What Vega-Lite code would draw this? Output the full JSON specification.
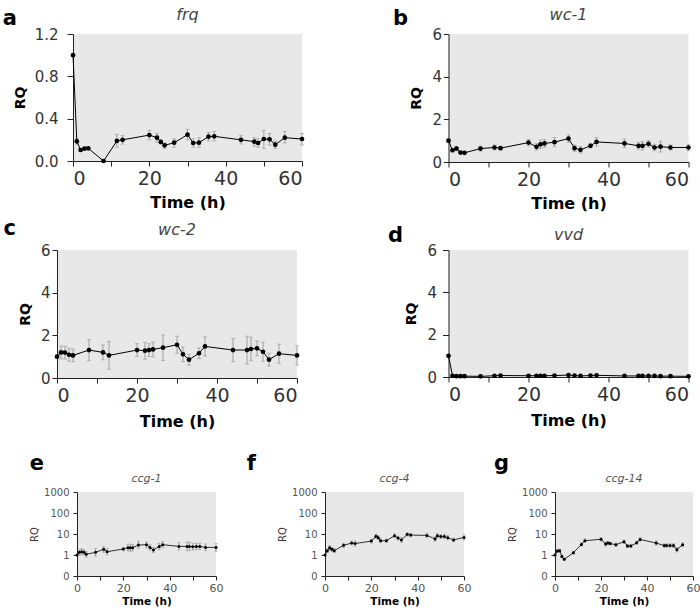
{
"$schema": "https://vega.github.io/schema/vega-lite/v6.json",
"padding": {"left": 2, "top": 7, "right": 0, "bottom": 0},
"background": "white",
"config": {
  "view": {"fill": "#e8e8e8", "stroke": null},
  "axis": {"grid": false, "domainColor": "#222", "tickColor": "#222", "labelColor": "#333", "titleColor": "#000", "labelFont": "DejaVu Sans", "titleFont": "DejaVu Sans", "domainWidth": 1, "tickWidth": 1},
  "title": {"font": "DejaVu Sans"}
},
"datasets": {
  "frq": [
    {"t":0,"rq":1.0,"lo":0.99,"hi":1.01},{"t":1,"rq":0.186,"lo":0.16,"hi":0.21},{"t":2,"rq":0.104,"lo":0.09,"hi":0.12},{"t":3,"rq":0.117,"lo":0.10,"hi":0.13},{"t":4,"rq":0.12,"lo":0.11,"hi":0.13},{"t":8,"rq":0.0,"lo":0.0,"hi":0.01},{"t":11.5,"rq":0.19,"lo":0.13,"hi":0.25},{"t":13,"rq":0.2,"lo":0.16,"hi":0.24},{"t":20,"rq":0.245,"lo":0.2,"hi":0.29},{"t":22,"rq":0.22,"lo":0.18,"hi":0.26},{"t":23,"rq":0.18,"lo":0.16,"hi":0.2},{"t":24,"rq":0.148,"lo":0.12,"hi":0.17},{"t":26.5,"rq":0.173,"lo":0.13,"hi":0.21},{"t":30,"rq":0.249,"lo":0.2,"hi":0.3},{"t":31.5,"rq":0.17,"lo":0.13,"hi":0.21},{"t":33,"rq":0.173,"lo":0.13,"hi":0.22},{"t":35.5,"rq":0.23,"lo":0.19,"hi":0.27},{"t":37,"rq":0.233,"lo":0.19,"hi":0.28},{"t":44,"rq":0.2,"lo":0.16,"hi":0.24},{"t":47.5,"rq":0.183,"lo":0.14,"hi":0.22},{"t":48.5,"rq":0.17,"lo":0.13,"hi":0.21},{"t":50,"rq":0.208,"lo":0.12,"hi":0.29},{"t":51.5,"rq":0.205,"lo":0.15,"hi":0.26},{"t":53,"rq":0.154,"lo":0.12,"hi":0.19},{"t":55.5,"rq":0.22,"lo":0.17,"hi":0.28},{"t":60,"rq":0.208,"lo":0.15,"hi":0.26}
  ],
  "wc1": [
    {"t":0,"rq":1.0,"lo":0.92,"hi":1.08},{"t":1,"rq":0.55,"lo":0.47,"hi":0.63},{"t":2,"rq":0.63,"lo":0.53,"hi":0.73},{"t":3,"rq":0.44,"lo":0.38,"hi":0.5},{"t":4,"rq":0.43,"lo":0.37,"hi":0.49},{"t":8,"rq":0.63,"lo":0.51,"hi":0.75},{"t":11.5,"rq":0.68,"lo":0.56,"hi":0.8},{"t":13,"rq":0.65,"lo":0.57,"hi":0.73},{"t":20,"rq":0.91,"lo":0.76,"hi":1.06},{"t":22,"rq":0.71,"lo":0.56,"hi":0.86},{"t":23,"rq":0.83,"lo":0.63,"hi":1.03},{"t":24,"rq":0.87,"lo":0.69,"hi":1.05},{"t":26.5,"rq":0.93,"lo":0.71,"hi":1.15},{"t":30,"rq":1.1,"lo":0.92,"hi":1.28},{"t":31.5,"rq":0.65,"lo":0.5,"hi":0.8},{"t":33,"rq":0.57,"lo":0.42,"hi":0.72},{"t":35.5,"rq":0.76,"lo":0.66,"hi":0.86},{"t":37,"rq":0.94,"lo":0.74,"hi":1.14},{"t":44,"rq":0.87,"lo":0.67,"hi":1.07},{"t":47.5,"rq":0.76,"lo":0.61,"hi":0.91},{"t":48.5,"rq":0.76,"lo":0.56,"hi":0.96},{"t":50,"rq":0.85,"lo":0.7,"hi":1.0},{"t":51.5,"rq":0.68,"lo":0.53,"hi":0.83},{"t":53,"rq":0.72,"lo":0.47,"hi":0.97},{"t":55.5,"rq":0.68,"lo":0.56,"hi":0.8},{"t":60,"rq":0.68,"lo":0.53,"hi":0.83}
  ],
  "wc2": [
    {"t":0,"rq":1.0,"lo":0.95,"hi":1.05},{"t":1,"rq":1.2,"lo":0.9,"hi":1.5},{"t":2,"rq":1.19,"lo":0.89,"hi":1.49},{"t":3,"rq":1.09,"lo":0.79,"hi":1.39},{"t":4,"rq":1.06,"lo":0.76,"hi":1.36},{"t":8,"rq":1.31,"lo":0.81,"hi":1.81},{"t":11.5,"rq":1.2,"lo":0.85,"hi":1.55},{"t":13,"rq":1.06,"lo":0.41,"hi":1.71},{"t":20,"rq":1.31,"lo":1.01,"hi":1.61},{"t":22,"rq":1.28,"lo":0.88,"hi":1.68},{"t":23,"rq":1.31,"lo":1.01,"hi":1.61},{"t":24,"rq":1.34,"lo":0.99,"hi":1.69},{"t":26.5,"rq":1.42,"lo":0.82,"hi":2.02},{"t":30,"rq":1.56,"lo":1.16,"hi":1.96},{"t":31.5,"rq":1.11,"lo":0.76,"hi":1.46},{"t":33,"rq":0.86,"lo":0.61,"hi":1.11},{"t":35.5,"rq":1.16,"lo":0.91,"hi":1.41},{"t":37,"rq":1.48,"lo":1.03,"hi":1.93},{"t":44,"rq":1.31,"lo":0.76,"hi":1.86},{"t":47.5,"rq":1.31,"lo":0.66,"hi":1.96},{"t":48.5,"rq":1.36,"lo":0.81,"hi":1.91},{"t":50,"rq":1.39,"lo":1.04,"hi":1.74},{"t":51.5,"rq":1.23,"lo":0.78,"hi":1.68},{"t":53,"rq":0.86,"lo":0.56,"hi":1.16},{"t":55.5,"rq":1.14,"lo":0.69,"hi":1.59},{"t":60,"rq":1.06,"lo":0.61,"hi":1.51}
  ],
  "vvd": [
    {"t":0,"rq":1.0,"lo":0.97,"hi":1.03},{"t":1,"rq":0.06,"lo":0.04,"hi":0.08},{"t":2,"rq":0.04,"lo":0.03,"hi":0.05},{"t":3,"rq":0.04,"lo":0.03,"hi":0.05},{"t":4,"rq":0.04,"lo":0.03,"hi":0.05},{"t":8,"rq":0.03,"lo":0.02,"hi":0.04},{"t":11.5,"rq":0.06,"lo":0.04,"hi":0.08},{"t":13,"rq":0.07,"lo":0.05,"hi":0.09},{"t":20,"rq":0.06,"lo":0.04,"hi":0.08},{"t":22,"rq":0.06,"lo":0.04,"hi":0.08},{"t":23,"rq":0.06,"lo":0.04,"hi":0.08},{"t":24,"rq":0.06,"lo":0.04,"hi":0.08},{"t":26.5,"rq":0.07,"lo":0.05,"hi":0.09},{"t":30,"rq":0.09,"lo":0.06,"hi":0.12},{"t":31.5,"rq":0.07,"lo":0.05,"hi":0.09},{"t":33,"rq":0.05,"lo":0.04,"hi":0.06},{"t":35.5,"rq":0.07,"lo":0.05,"hi":0.09},{"t":37,"rq":0.08,"lo":0.06,"hi":0.1},{"t":44,"rq":0.05,"lo":0.04,"hi":0.06},{"t":47.5,"rq":0.05,"lo":0.04,"hi":0.06},{"t":48.5,"rq":0.05,"lo":0.04,"hi":0.06},{"t":50,"rq":0.05,"lo":0.04,"hi":0.06},{"t":51.5,"rq":0.05,"lo":0.04,"hi":0.06},{"t":53,"rq":0.04,"lo":0.03,"hi":0.05},{"t":55.5,"rq":0.04,"lo":0.03,"hi":0.05},{"t":60,"rq":0.03,"lo":0.02,"hi":0.04}
  ],
  "ccg1": [
    {"t":0,"rq":1.0,"lo":0.95,"hi":1.05},{"t":1,"rq":1.34,"lo":1.0,"hi":1.8},{"t":2,"rq":1.44,"lo":1.05,"hi":2.0},{"t":3,"rq":1.34,"lo":1.0,"hi":1.8},{"t":4,"rq":1.08,"lo":0.8,"hi":1.45},{"t":8,"rq":1.34,"lo":0.9,"hi":2.0},{"t":11.5,"rq":1.86,"lo":1.35,"hi":2.5},{"t":13,"rq":1.44,"lo":1.0,"hi":2.1},{"t":20,"rq":1.93,"lo":1.6,"hi":2.3},{"t":22,"rq":2.23,"lo":1.6,"hi":3.1},{"t":23,"rq":2.23,"lo":1.5,"hi":3.3},{"t":24,"rq":2.23,"lo":1.6,"hi":3.1},{"t":26.5,"rq":2.97,"lo":2.1,"hi":4.5},{"t":30,"rq":3.1,"lo":2.2,"hi":4.3},{"t":31.5,"rq":2.3,"lo":1.7,"hi":3.1},{"t":33,"rq":1.73,"lo":1.3,"hi":2.3},{"t":35.5,"rq":2.57,"lo":1.8,"hi":3.6},{"t":37,"rq":3.1,"lo":2.2,"hi":4.4},{"t":44,"rq":2.57,"lo":1.7,"hi":3.9},{"t":47.5,"rq":2.57,"lo":1.6,"hi":4.1},{"t":48.5,"rq":2.57,"lo":1.6,"hi":4.1},{"t":50,"rq":2.5,"lo":1.7,"hi":3.7},{"t":51.5,"rq":2.57,"lo":1.8,"hi":3.6},{"t":53,"rq":2.57,"lo":1.8,"hi":3.6},{"t":55.5,"rq":2.3,"lo":1.6,"hi":3.3},{"t":60,"rq":2.3,"lo":1.5,"hi":3.5}
  ],
  "ccg4": [
    {"t":0,"rq":1.0,"lo":0.95,"hi":1.05},{"t":1,"rq":1.6,"lo":1.3,"hi":2.0},{"t":2,"rq":2.2,"lo":1.7,"hi":2.8},{"t":3,"rq":1.86,"lo":1.5,"hi":2.3},{"t":4,"rq":1.6,"lo":1.3,"hi":2.0},{"t":8,"rq":2.9,"lo":2.3,"hi":3.6},{"t":11.5,"rq":3.7,"lo":3.0,"hi":4.6},{"t":13,"rq":3.5,"lo":2.6,"hi":4.7},{"t":20,"rq":4.6,"lo":3.8,"hi":5.6},{"t":22,"rq":7.8,"lo":6.2,"hi":9.8},{"t":23,"rq":6.7,"lo":5.4,"hi":8.3},{"t":24,"rq":4.8,"lo":3.9,"hi":5.9},{"t":26.5,"rq":4.8,"lo":4.0,"hi":5.8},{"t":30,"rq":8.3,"lo":6.8,"hi":10.1},{"t":31.5,"rq":6.4,"lo":5.2,"hi":7.9},{"t":33,"rq":5.2,"lo":4.0,"hi":6.8},{"t":35.5,"rq":9.6,"lo":8.0,"hi":11.5},{"t":37,"rq":8.9,"lo":7.4,"hi":10.7},{"t":44,"rq":8.6,"lo":6.8,"hi":10.9},{"t":47.5,"rq":5.8,"lo":4.5,"hi":7.5},{"t":48.5,"rq":8.3,"lo":6.5,"hi":10.6},{"t":50,"rq":7.5,"lo":6.0,"hi":9.4},{"t":51.5,"rq":7.7,"lo":6.1,"hi":9.7},{"t":53,"rq":6.7,"lo":5.2,"hi":8.6},{"t":55.5,"rq":5.2,"lo":4.3,"hi":6.3},{"t":60,"rq":6.9,"lo":5.2,"hi":9.1}
  ],
  "ccg14": [
    {"t":0,"rq":1.0,"lo":0.9,"hi":1.1},{"t":1,"rq":1.55,"lo":1.3,"hi":1.85},{"t":2,"rq":1.6,"lo":1.35,"hi":1.9},{"t":3,"rq":0.86,"lo":0.75,"hi":1.0},{"t":4,"rq":0.62,"lo":0.55,"hi":0.7},{"t":8,"rq":1.29,"lo":1.1,"hi":1.5},{"t":11.5,"rq":3.2,"lo":2.7,"hi":3.8},{"t":13,"rq":4.8,"lo":4.0,"hi":5.8},{"t":20,"rq":5.6,"lo":4.7,"hi":6.7},{"t":22,"rq":3.3,"lo":2.6,"hi":4.2},{"t":23,"rq":3.7,"lo":3.1,"hi":4.4},{"t":24,"rq":3.5,"lo":3.0,"hi":4.1},{"t":26.5,"rq":3.1,"lo":2.6,"hi":3.7},{"t":30,"rq":4.3,"lo":3.6,"hi":5.1},{"t":31.5,"rq":2.7,"lo":2.3,"hi":3.2},{"t":33,"rq":2.7,"lo":2.3,"hi":3.2},{"t":35.5,"rq":3.8,"lo":3.2,"hi":4.5},{"t":37,"rq":5.5,"lo":4.6,"hi":6.6},{"t":44,"rq":3.7,"lo":2.9,"hi":4.7},{"t":47.5,"rq":2.8,"lo":2.3,"hi":3.4},{"t":48.5,"rq":2.8,"lo":2.3,"hi":3.4},{"t":50,"rq":2.8,"lo":2.3,"hi":3.4},{"t":51.5,"rq":2.8,"lo":2.3,"hi":3.4},{"t":53,"rq":1.8,"lo":1.4,"hi":2.3},{"t":55.5,"rq":3.1,"lo":2.5,"hi":3.8}
  ]
},
"columns": 1, "align": "each", "spacing": 24,
"concat": [
 {"columns": 1, "align": "each", "spacing": 7, "concat": [
  {"columns": 2, "align": "each", "spacing": 87, "concat": [
   {"columns": 2, "align": "each", "spacing": -4, "concat": [
    {"width": 14, "height": 1, "data": {"values": []}, "mark": "point", "view": {"fill": null, "stroke": null},
     "title": {"text": "a", "anchor": "end", "frame": "group", "fontSize": 21, "fontWeight": "bold", "color": "#000", "offset": 5}},
    {"width": 229, "height": 127,
     "title": {"text": "frq", "fontStyle": "italic", "fontWeight": "normal", "fontSize": 16, "color": "#444", "offset": 4},
     "data": {"name": "frq"},
     "encoding": {"x": {"field": "t", "type": "quantitative", "scale": {"domain": [0, 60], "nice": false},
       "axis": {"title": "Time (h)", "values": [0,10,20,30,40,50,60], "labelExpr": "datum.value % 20 == 0 ? datum.label : ''", "labelFontSize": 19, "labelFlush": true, "labelFlushOffset": 0, "labelPadding": 3, "tickSize": 5, "titleFontSize": 16, "titleFontWeight": "bold", "titlePadding": 6}}},
     "layer": [
      {"mark": {"type": "errorbar", "ticks": {"size": 4, "color": "#a0a0a0"}, "rule": {"color": "#a0a0a0"}},
       "encoding": {"y": {"field": "lo", "type": "quantitative", "title": "RQ", "scale": {"domain": [0, 1.2], "nice": false}}, "y2": {"field": "hi"}}},
      {"mark": {"type": "line", "color": "#000", "strokeWidth": 1},
       "encoding": {"y": {"field": "rq", "type": "quantitative", "scale": {"domain": [0, 1.2], "nice": false},
         "axis": {"title": "RQ", "values": [0,0.2,0.4,0.6,0.8,1,1.2], "labelExpr": "round(datum.value*10) % 4 == 0 ? format(datum.value, '.1f') : ''", "labelFontSize": 15, "labelPadding": 9, "tickSize": 6, "titleFontSize": 14, "titleFontWeight": "bold", "titlePadding": 7}}}},
      {"mark": {"type": "point", "filled": true, "color": "#000", "opacity": 1, "size": 22},
       "encoding": {"y": {"field": "rq", "type": "quantitative", "title": "RQ", "scale": {"domain": [0, 1.2], "nice": false}}}}
     ]}
   ]},
   {"columns": 2, "align": "each", "spacing": 1.5, "concat": [
    {"width": 14, "height": 1, "data": {"values": []}, "mark": "point", "view": {"fill": null, "stroke": null},
     "title": {"text": "b", "anchor": "end", "frame": "group", "fontSize": 21, "fontWeight": "bold", "color": "#000", "offset": 5}},
    {"width": 240, "height": 128,
     "title": {"text": "wc-1", "fontStyle": "italic", "fontWeight": "normal", "fontSize": 16, "color": "#444", "offset": 4},
     "data": {"name": "wc1"},
     "encoding": {"x": {"field": "t", "type": "quantitative", "scale": {"domain": [0, 60], "nice": false},
       "axis": {"title": "Time (h)", "values": [0,10,20,30,40,50,60], "labelExpr": "datum.value % 20 == 0 ? datum.label : ''", "labelFontSize": 19, "labelFlush": true, "labelFlushOffset": 0, "labelPadding": 3, "tickSize": 5, "titleFontSize": 16, "titleFontWeight": "bold", "titlePadding": 6}}},
     "layer": [
      {"mark": {"type": "errorbar", "ticks": {"size": 4, "color": "#a0a0a0"}, "rule": {"color": "#a0a0a0"}},
       "encoding": {"y": {"field": "lo", "type": "quantitative", "title": "RQ", "scale": {"domain": [0, 6], "nice": false}}, "y2": {"field": "hi"}}},
      {"mark": {"type": "line", "color": "#000", "strokeWidth": 1},
       "encoding": {"y": {"field": "rq", "type": "quantitative", "scale": {"domain": [0, 6], "nice": false},
         "axis": {"title": "RQ", "values": [0,1,2,3,4,5,6], "labelExpr": "datum.value % 2 == 0 ? datum.label : ''", "labelFontSize": 15, "labelPadding": 2, "tickSize": 5, "titleFontSize": 14, "titleFontWeight": "bold", "titlePadding": 8}}}},
      {"mark": {"type": "point", "filled": true, "color": "#000", "opacity": 1, "size": 22},
       "encoding": {"y": {"field": "rq", "type": "quantitative", "title": "RQ", "scale": {"domain": [0, 6], "nice": false}}}}
     ]}
   ]}
  ]},
  {"columns": 2, "align": "each", "spacing": 87, "concat": [
   {"columns": 2, "align": "each", "spacing": 2, "concat": [
    {"width": 13, "height": 1, "data": {"values": []}, "mark": "point", "view": {"fill": null, "stroke": null},
     "title": {"text": "c", "anchor": "end", "frame": "group", "fontSize": 21, "fontWeight": "bold", "color": "#000", "offset": 11}},
    {"width": 240, "height": 128,
     "title": {"text": "wc-2", "fontStyle": "italic", "fontWeight": "normal", "fontSize": 16, "color": "#444", "offset": 5},
     "data": {"name": "wc2"},
     "encoding": {"x": {"field": "t", "type": "quantitative", "scale": {"domain": [0, 60], "nice": false},
       "axis": {"title": "Time (h)", "values": [0,10,20,30,40,50,60], "labelExpr": "datum.value % 20 == 0 ? datum.label : ''", "labelFontSize": 19, "labelFlush": true, "labelFlushOffset": 0, "labelPadding": 3, "tickSize": 5, "titleFontSize": 16, "titleFontWeight": "bold", "titlePadding": 8}}},
     "layer": [
      {"mark": {"type": "errorbar", "ticks": {"size": 4, "color": "#a0a0a0"}, "rule": {"color": "#a0a0a0"}},
       "encoding": {"y": {"field": "lo", "type": "quantitative", "title": "RQ", "scale": {"domain": [0, 6], "nice": false}}, "y2": {"field": "hi"}}},
      {"mark": {"type": "line", "color": "#000", "strokeWidth": 1},
       "encoding": {"y": {"field": "rq", "type": "quantitative", "scale": {"domain": [0, 6], "nice": false},
         "axis": {"title": "RQ", "values": [0,1,2,3,4,5,6], "labelExpr": "datum.value % 2 == 0 ? datum.label : ''", "labelFontSize": 15, "labelPadding": 2, "tickSize": 5, "titleFontSize": 14, "titleFontWeight": "bold", "titlePadding": 8}}}},
      {"mark": {"type": "point", "filled": true, "color": "#000", "opacity": 1, "size": 22},
       "encoding": {"y": {"field": "rq", "type": "quantitative", "title": "RQ", "scale": {"domain": [0, 6], "nice": false}}}}
     ]}
   ]},
   {"columns": 2, "align": "each", "spacing": 1.5, "concat": [
    {"width": 14, "height": 1, "data": {"values": []}, "mark": "point", "view": {"fill": null, "stroke": null},
     "title": {"text": "d", "anchor": "end", "frame": "group", "fontSize": 21, "fontWeight": "bold", "color": "#000", "offset": 4}},
    {"width": 240, "height": 127,
     "title": {"text": "vvd", "fontStyle": "italic", "fontWeight": "normal", "fontSize": 16, "color": "#444", "offset": 0},
     "data": {"name": "vvd"},
     "encoding": {"x": {"field": "t", "type": "quantitative", "scale": {"domain": [0, 60], "nice": false},
       "axis": {"title": "Time (h)", "values": [0,10,20,30,40,50,60], "labelExpr": "datum.value % 20 == 0 ? datum.label : ''", "labelFontSize": 19, "labelFlush": true, "labelFlushOffset": 0, "labelPadding": 3, "tickSize": 5, "titleFontSize": 16, "titleFontWeight": "bold", "titlePadding": 8}}},
     "layer": [
      {"mark": {"type": "errorbar", "ticks": {"size": 4, "color": "#a0a0a0"}, "rule": {"color": "#a0a0a0"}},
       "encoding": {"y": {"field": "lo", "type": "quantitative", "title": "RQ", "scale": {"domain": [0, 6], "nice": false}}, "y2": {"field": "hi"}}},
      {"mark": {"type": "line", "color": "#000", "strokeWidth": 1},
       "encoding": {"y": {"field": "rq", "type": "quantitative", "scale": {"domain": [0, 6], "nice": false},
         "axis": {"title": "RQ", "values": [0,1,2,3,4,5,6], "labelExpr": "datum.value % 2 == 0 ? datum.label : ''", "labelFontSize": 15, "labelPadding": 6, "tickSize": 6, "titleFontSize": 14, "titleFontWeight": "bold", "titlePadding": 8}}}},
      {"mark": {"type": "point", "filled": true, "color": "#000", "opacity": 1, "size": 22},
       "encoding": {"y": {"field": "rq", "type": "quantitative", "title": "RQ", "scale": {"domain": [0, 6], "nice": false}}}}
     ]}
   ]}
  ]}
 ]},
 {"columns": 3, "align": "each", "spacing": 22, "concat": [
   {"columns": 2, "align": "each", "spacing": -15, "concat": [
    {"width": 41, "height": 1, "data": {"values": []}, "mark": "point", "view": {"fill": null, "stroke": null},
     "title": {"text": "e", "anchor": "end", "frame": "group", "fontSize": 21, "fontWeight": "bold", "color": "#000", "offset": 18}},
    {"width": 139, "height": 84,
     "title": {"text": "ccg-1", "fontStyle": "italic", "fontWeight": "normal", "fontSize": 11, "color": "#555", "offset": 3},
     "data": {"name": "ccg1"},
     "encoding": {"x": {"field": "t", "type": "quantitative", "scale": {"domain": [0, 60], "nice": false},
       "axis": {"title": "Time (h)", "values": [0,10,20,30,40,50,60], "labelExpr": "datum.value % 20 == 0 ? datum.label : ''", "labelFontSize": 11, "labelColor": "#555", "labelFlush": false, "labelPadding": 2, "tickSize": 4, "titleFontSize": 10.5, "titleFontWeight": "bold", "titlePadding": 3}}},
     "layer": [
      {"mark": {"type": "errorbar", "ticks": {"size": 3, "color": "#a0a0a0"}, "rule": {"color": "#a0a0a0"}},
       "encoding": {"y": {"field": "lo", "type": "quantitative", "title": "RQ", "scale": {"type": "log", "domain": [0.1, 1000], "nice": false}}, "y2": {"field": "hi"}}},
      {"mark": {"type": "line", "color": "#000", "strokeWidth": 0.8},
       "encoding": {"y": {"field": "rq", "type": "quantitative", "scale": {"type": "log", "domain": [0.1, 1000], "nice": false},
         "axis": {"title": "RQ", "values": [0.1,1,10,100,1000], "labelExpr": "datum.value < 1 ? '0' : format(datum.value, 'd')", "labelFontSize": 10, "labelColor": "#555", "labelPadding": 4, "tickSize": 4, "titleFontSize": 10, "titleFontWeight": "normal", "titleColor": "#333", "titlePadding": 4}}}},
      {"mark": {"type": "point", "filled": true, "color": "#000", "opacity": 1, "size": 9},
       "encoding": {"y": {"field": "rq", "type": "quantitative", "title": "RQ", "scale": {"type": "log", "domain": [0.1, 1000], "nice": false}}}}
     ]}
   ]},
   {"columns": 2, "align": "each", "spacing": 21, "concat": [
    {"width": 11, "height": 1, "data": {"values": []}, "mark": "point", "view": {"fill": null, "stroke": null},
     "title": {"text": "f", "anchor": "end", "frame": "group", "fontSize": 21, "fontWeight": "bold", "color": "#000", "offset": 18}},
    {"width": 139, "height": 84,
     "title": {"text": "ccg-4", "fontStyle": "italic", "fontWeight": "normal", "fontSize": 11, "color": "#555", "offset": 3},
     "data": {"name": "ccg4"},
     "encoding": {"x": {"field": "t", "type": "quantitative", "scale": {"domain": [0, 60], "nice": false},
       "axis": {"title": "Time (h)", "values": [0,10,20,30,40,50,60], "labelExpr": "datum.value % 20 == 0 ? datum.label : ''", "labelFontSize": 11, "labelColor": "#555", "labelFlush": false, "labelPadding": 2, "tickSize": 4, "titleFontSize": 10.5, "titleFontWeight": "bold", "titlePadding": 3}}},
     "layer": [
      {"mark": {"type": "errorbar", "ticks": {"size": 3, "color": "#a0a0a0"}, "rule": {"color": "#a0a0a0"}},
       "encoding": {"y": {"field": "lo", "type": "quantitative", "title": "RQ", "scale": {"type": "log", "domain": [0.1, 1000], "nice": false}}, "y2": {"field": "hi"}}},
      {"mark": {"type": "line", "color": "#000", "strokeWidth": 0.8},
       "encoding": {"y": {"field": "rq", "type": "quantitative", "scale": {"type": "log", "domain": [0.1, 1000], "nice": false},
         "axis": {"title": "RQ", "values": [0.1,1,10,100,1000], "labelExpr": "datum.value < 1 ? '0' : format(datum.value, 'd')", "labelFontSize": 10, "labelColor": "#555", "labelPadding": 4, "tickSize": 4, "titleFontSize": 10, "titleFontWeight": "normal", "titleColor": "#333", "titlePadding": 4}}}},
      {"mark": {"type": "point", "filled": true, "color": "#000", "opacity": 1, "size": 9},
       "encoding": {"y": {"field": "rq", "type": "quantitative", "title": "RQ", "scale": {"type": "log", "domain": [0.1, 1000], "nice": false}}}}
     ]}
   ]},
   {"columns": 2, "align": "each", "spacing": -2, "concat": [
    {"width": 15, "height": 1, "data": {"values": []}, "mark": "point", "view": {"fill": null, "stroke": null},
     "title": {"text": "g", "anchor": "end", "frame": "group", "fontSize": 21, "fontWeight": "bold", "color": "#000", "offset": 18}},
    {"width": 138, "height": 84,
     "title": {"text": "ccg-14", "fontStyle": "italic", "fontWeight": "normal", "fontSize": 11, "color": "#555", "offset": 3},
     "data": {"name": "ccg14"},
     "encoding": {"x": {"field": "t", "type": "quantitative", "scale": {"domain": [0, 60], "nice": false},
       "axis": {"title": "Time (h)", "values": [0,10,20,30,40,50,60], "labelExpr": "datum.value % 20 == 0 ? datum.label : ''", "labelFontSize": 11, "labelColor": "#555", "labelFlush": false, "labelPadding": 2, "tickSize": 4, "titleFontSize": 10.5, "titleFontWeight": "bold", "titlePadding": 3}}},
     "layer": [
      {"mark": {"type": "errorbar", "ticks": {"size": 3, "color": "#a0a0a0"}, "rule": {"color": "#a0a0a0"}},
       "encoding": {"y": {"field": "lo", "type": "quantitative", "title": "RQ", "scale": {"type": "log", "domain": [0.1, 1000], "nice": false}}, "y2": {"field": "hi"}}},
      {"mark": {"type": "line", "color": "#000", "strokeWidth": 0.8},
       "encoding": {"y": {"field": "rq", "type": "quantitative", "scale": {"type": "log", "domain": [0.1, 1000], "nice": false},
         "axis": {"title": "RQ", "values": [0.1,1,10,100,1000], "labelExpr": "datum.value < 1 ? '0' : format(datum.value, 'd')", "labelFontSize": 10, "labelColor": "#555", "labelPadding": 4, "tickSize": 4, "titleFontSize": 10, "titleFontWeight": "normal", "titleColor": "#333", "titlePadding": 4}}}},
      {"mark": {"type": "point", "filled": true, "color": "#000", "opacity": 1, "size": 9},
       "encoding": {"y": {"field": "rq", "type": "quantitative", "title": "RQ", "scale": {"type": "log", "domain": [0.1, 1000], "nice": false}}}}
     ]}
   ]}
 ]}
]
}
